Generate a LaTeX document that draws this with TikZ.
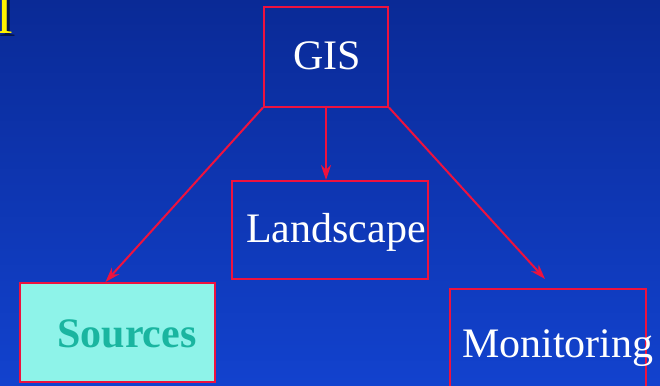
\documentclass[tikz,border=0pt]{standalone}
\usepackage{fontspec}
\setmainfont{Liberation Serif}
\usetikzlibrary{arrows.meta,shapes}
\definecolor{boxred}{RGB}{238,18,62}
\definecolor{bgtop}{RGB}{10,42,150}
\definecolor{bgbot}{RGB}{18,66,206}
\definecolor{aqua}{RGB}{142,243,233}
\definecolor{srcteal}{RGB}{26,181,160}
\tikzstyle{box}=[rectangle,draw=boxred,line width=2pt,inner sep=0pt]
\tikzstyle{boxtext}=[inner sep=0pt,text=white,font=\fontsize{42}{50}\selectfont]
\tikzstyle{link}=[->,draw=boxred,line width=2pt]

\begin{document}
\begin{tikzpicture}[>={Stealth[length=15pt,width=10pt,inset=5pt]},x=1pt,y=-1pt]
\useasboundingbox (0,0) rectangle (660,385);
\shade[top color=bgtop,bottom color=bgbot] (0,0) rectangle (660,385);
% cut-off title letter
\node[anchor=base east,inner sep=0pt,text=black,opacity=0.5,font=\fontsize{60}{70}\selectfont] (ttlsh) at (16,37) {l};
\node[anchor=base east,inner sep=0pt,text=yellow,font=\fontsize{60}{70}\selectfont] (ttl) at (13,34) {l};

\node [box,minimum width=124pt,minimum height=99pt] (gis) at (326,57) {};
\node [box,minimum width=196pt,minimum height=98pt] (land) at (330,230) {};
\node [box,fill=aqua,minimum width=195pt,minimum height=99pt] (src) at (117.5,332.5) {};
\node [box,minimum width=196pt,minimum height=98pt] (mon) at (548,338) {};

\node [boxtext,anchor=base] (gist) at (327,70) {GIS};
\node [boxtext,anchor=base west] (landt) at (246,242) {Landscape};
\node [boxtext,anchor=base,text=srcteal,font=\fontsize{42}{50}\selectfont\bfseries] (srct) at (127,347) {Sources};
\node [boxtext,anchor=base west] (mont) at (462,357) {Monitoring};

\draw[link] (gis.south west) -- ([xshift=-12pt]src.north);
\draw[link] (gis.south) -- (gis.south |- land.north);
\draw[link] (gis.south east) -- ([shift={(-3,-9)}]mon.north);
\end{tikzpicture}
\end{document}
